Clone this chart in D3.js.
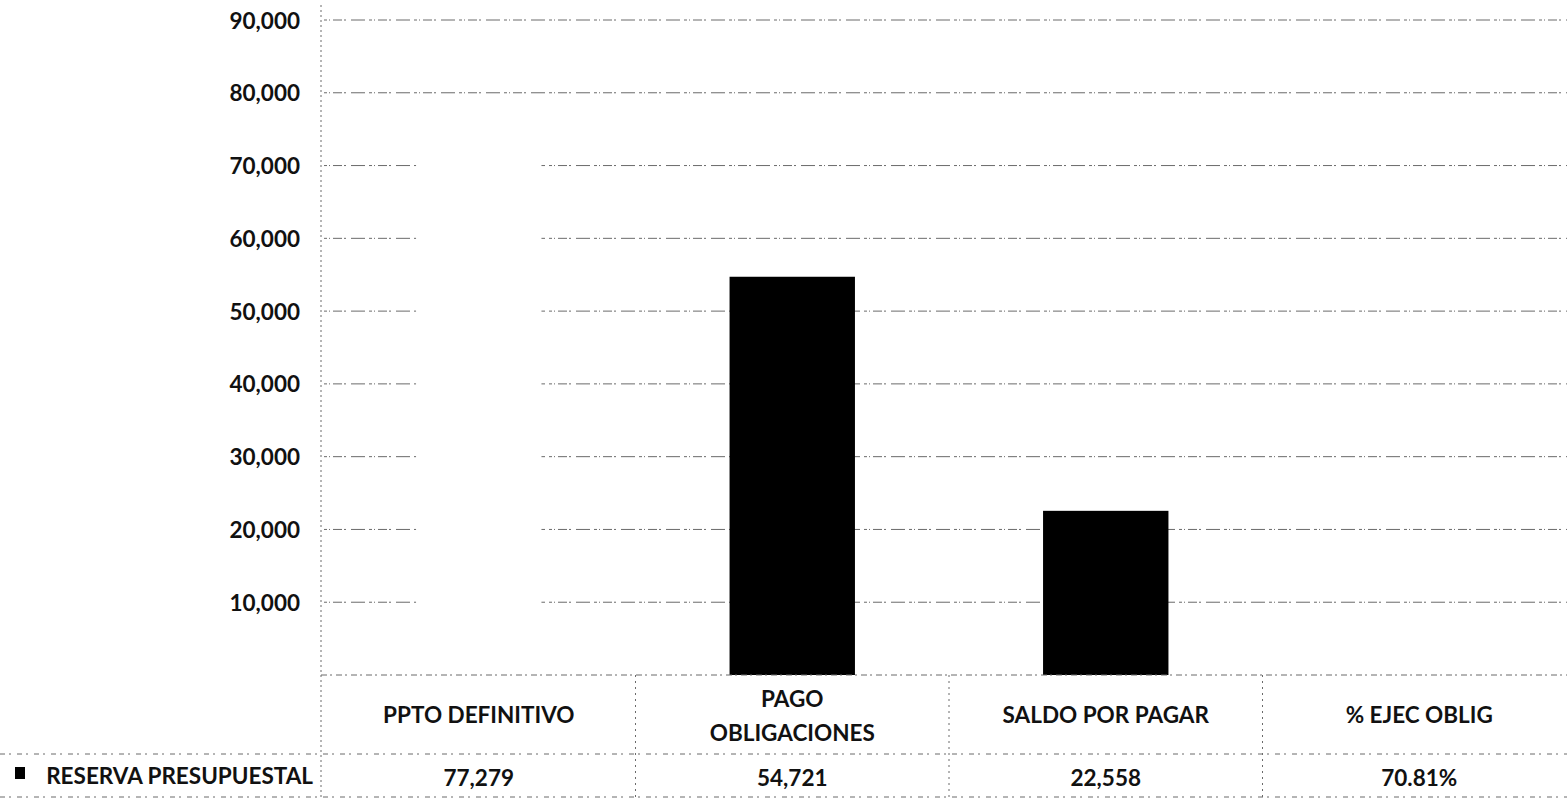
<!DOCTYPE html>
<html>
<head>
<meta charset="utf-8">
<script src="https://cdn.jsdelivr.net/npm/d3@7"></script>
<style>
  html, body { margin: 0; padding: 0; background: #fff; }
  svg { display: block; }
</style>
</head>
<body>
<div id="chart"></div>
<script>
// data
const categories = ['PPTO DEFINITIVO', 'PAGO OBLIGACIONES', 'SALDO POR PAGAR', '% EJEC OBLIG'];
const values = [77279, 54721, 22558, 70.81];
const valueLabels = ['77,279', '54,721', '22,558', '70.81%'];
const seriesName = 'RESERVA PRESUPUESTAL';
const yTicks = [10000, 20000, 30000, 40000, 50000, 60000, 70000, 80000, 90000];

// the first and last bars came out white in the scan
const barFill = ['#fff', '#000', '#000', '#fff'];

const W = 1567, H = 800;
const font = 'Lato, "Open Sans", sans-serif';
const fontSize = '22.5px';
const ink = '#111';
const grid = '#6a6a6a';

const svg = d3.select('#chart')
    .append('svg')
    .attr('width', W)
    .attr('height', H)
    .style('font-family', font)
    .style('font-weight', 700)
    .style('font-size', fontSize);

const x = d3.scaleBand()
    .domain(categories)
    .range([322, 1576])
    .padding(0);

const y = d3.scaleLinear()
    .domain([0, 90000])
    .range([675, 20]);

const bw = x.bandwidth();
const barW = bw * 0.4;

// gridlines
svg.append('g')
    .selectAll('line')
    .data(yTicks)
    .join('line')
    .attr('x1', 324)
    .attr('x2', W)
    .attr('y1', d => y(d))
    .attr('y2', d => y(d))
    .style('stroke', grid)
    .style('stroke-width', 1)
    .style('stroke-dasharray', '3,2,1,3,9,2,2,5,14,4');

// y axis labels
const yAxis = svg.append('g')
    .attr('transform', 'translate(300,0)')
    .call(d3.axisLeft(y).tickValues(yTicks).tickSize(0).tickPadding(0).tickFormat(d3.format(',')));
yAxis.select('.domain').remove();
yAxis.selectAll('text')
    .attr('dy', '0.36em')
    .style('font-family', font)
    .style('font-weight', 700)
    .style('font-size', fontSize)
    .style('fill', ink);

// bars
svg.append('g')
    .selectAll('rect')
    .data(values)
    .join('rect')
    .attr('x', (d, i) => x(categories[i]) + (bw - barW) / 2)
    .attr('y', d => y(d))
    .attr('width', barW)
    .attr('height', d => y(0) - y(d))
    .style('fill', (d, i) => barFill[i]);

// plot frame: left edge and baseline
svg.append('line')
    .attr('x1', 321).attr('x2', 321)
    .attr('y1', 5).attr('y2', H)
    .style('stroke', grid)
    .style('stroke-dasharray', '2,3');

svg.append('line')
    .attr('x1', 321).attr('x2', W)
    .attr('y1', y(0)).attr('y2', y(0))
    .style('stroke', grid)
    .style('stroke-dasharray', '6,3,2,4');

// data table
const rowLine = 754, tableBottom = 797;

svg.append('g')
    .selectAll('line')
    .data(categories.slice(1))
    .join('line')
    .attr('x1', d => x(d)).attr('x2', d => x(d))
    .attr('y1', y(0)).attr('y2', H)
    .style('stroke', grid)
    .style('stroke-dasharray', '2,4');

[rowLine, tableBottom].forEach(ly => {
    svg.append('line')
        .attr('x1', 0).attr('x2', W)
        .attr('y1', ly).attr('y2', ly)
        .style('stroke', grid)
        .style('stroke-dasharray', '5,4,2,6');
});

// category labels, long ones wrap onto two lines
const catText = svg.append('g')
    .selectAll('text')
    .data(categories)
    .join('text')
    .attr('text-anchor', 'middle')
    .attr('x', d => x(d) + bw / 2)
    .attr('y', 723)
    .style('fill', ink);

catText.each(function (d) {
    const words = d.split(' ');
    const t = d3.select(this);
    if (d.length > 16 && words.length === 2) {
        t.append('tspan').attr('x', x(d) + bw / 2).attr('y', 707).text(words[0]);
        t.append('tspan').attr('x', x(d) + bw / 2).attr('y', 741).text(words[1]);
    } else {
        t.text(d);
    }
});

// values row
svg.append('g')
    .selectAll('text')
    .data(valueLabels)
    .join('text')
    .attr('text-anchor', 'middle')
    .attr('x', (d, i) => x(categories[i]) + bw / 2)
    .attr('y', 786)
    .style('fill', ink)
    .text(d => d);

// legend key in the table
svg.append('rect')
    .attr('x', 15)
    .attr('y', 767)
    .attr('width', 10)
    .attr('height', 12)
    .style('fill', '#000');

svg.append('text')
    .attr('x', 313)
    .attr('y', 784)
    .attr('text-anchor', 'end')
    .style('fill', ink)
    .text(seriesName);
</script>
</body>
</html>
